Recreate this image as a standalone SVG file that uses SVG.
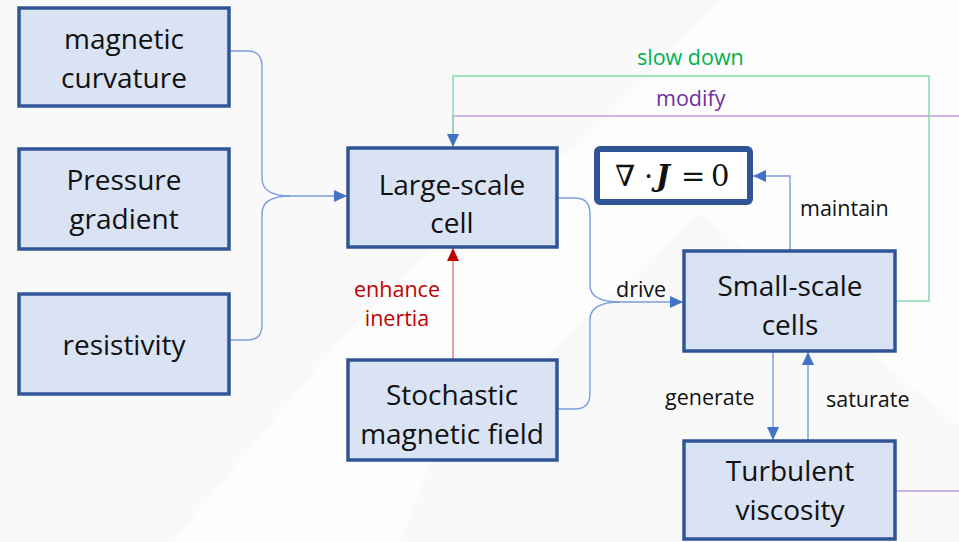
<svg xmlns="http://www.w3.org/2000/svg" width="959" height="542" viewBox="0 0 959 542">
<defs>
<style>
.node rect{fill:#dae3f3;stroke:#2f5597;stroke-width:3.5}
.nt{font-family:"Open Sans","Noto Sans",sans-serif;font-size:28px;fill:#111;text-anchor:middle}
.lb{font-family:"Open Sans","Noto Sans",sans-serif;font-size:21.5px}
.blue{fill:none;stroke:#7c9fdc;stroke-width:1.4}
.red{fill:none;stroke:#e07878;stroke-width:1.4}
.green{fill:none;stroke:#86dcaa;stroke-width:1.5}
.purple{fill:none;stroke:#bf9fdc;stroke-width:1.5}
</style>
<marker id="ab" markerUnits="userSpaceOnUse" markerWidth="14" markerHeight="12" refX="13" refY="6" orient="auto"><path d="M0,0 L13,6 L0,12 z" fill="#4472c4"/></marker>
<marker id="ar" markerUnits="userSpaceOnUse" markerWidth="14" markerHeight="12" refX="13" refY="6" orient="auto"><path d="M0,0 L13,6 L0,12 z" fill="#c00000"/></marker>
</defs>
<rect x="0" y="0" width="959" height="542" fill="#f9f9f9"/>
<polygon points="720,0 959,0 959,425 700,213 430,463 400,542 173,542 340,340 450,230 585,140" fill="#fdfdfd"/>

<g id="connectors">
<path class="blue" d="M230,51 H248 Q262,51 262,66 V178 Q262,196 290,196 H347" marker-end="url(#ab)"/>
<path class="blue" d="M230,340 H248 Q262,340 262,325 V214 Q262,196 290,196"/>
<path class="blue" d="M558,198 H575 Q590,198 590,214 V285 Q590,302 620,302 H683" marker-end="url(#ab)"/>
<path class="blue" d="M558,409 H575 Q590,409 590,393 V320 Q590,302 620,302"/>
<path class="red" d="M453,359 V248" marker-end="url(#ar)"/>
<path class="blue" d="M790,250 V176 H753" marker-end="url(#ab)"/>
<path class="blue" d="M773,352 V440" marker-end="url(#ab)"/>
<path class="blue" d="M808,440 V352" marker-end="url(#ab)"/>
<path class="purple" d="M896,491 H975 V116 H453 V147"/>
<path class="green" d="M896,301 H929 V76 H453 V147" marker-end="url(#ab)"/>
<text class="lb" x="665" y="405" fill="#111">generate</text>
<text class="lb" x="826" y="407" fill="#111">saturate</text>
<text class="lb" x="800" y="216" fill="#111">maintain</text>
<text class="lb" x="616" y="297" fill="#111">drive</text>
<text class="lb" x="397" y="297" fill="#c00000" text-anchor="middle">enhance</text>
<text class="lb" x="397" y="326" fill="#c00000" text-anchor="middle">inertia</text>
<text class="lb" x="637" y="65" fill="#00b050">slow down</text>
<text class="lb" x="656" y="106" fill="#7030a0">modify</text>
</g>

<g id="n1" class="node"><rect x="19" y="8" width="210" height="98"/>
<text class="nt" x="124" y="49">magnetic</text><text class="nt" x="124" y="88">curvature</text></g>
<g id="n2" class="node"><rect x="19" y="149" width="210" height="100"/>
<text class="nt" x="124" y="190">Pressure</text><text class="nt" x="124" y="229">gradient</text></g>
<g id="n3" class="node"><rect x="19" y="294" width="210" height="100"/>
<text class="nt" x="124" y="355">resistivity</text></g>
<g id="n4" class="node"><rect x="348" y="148" width="209" height="99"/>
<text class="nt" x="452" y="195">Large-scale</text><text class="nt" x="452" y="233">cell</text></g>
<g id="n5" class="node"><rect x="348" y="360" width="209" height="100"/>
<text class="nt" x="452" y="405">Stochastic</text><text class="nt" x="452" y="444">magnetic field</text></g>
<g id="n6" class="node"><rect x="684" y="251" width="211" height="100"/>
<text class="nt" x="790" y="296">Small-scale</text><text class="nt" x="790" y="335">cells</text></g>
<g id="n7" class="node"><rect x="684" y="441" width="211" height="98"/>
<text class="nt" x="790" y="481">Turbulent</text><text class="nt" x="790" y="520">viscosity</text></g>
<g id="n8"><rect x="597" y="149" width="153" height="53" rx="3" fill="#ffffff" stroke="#2f5597" stroke-width="6"/>
<text font-family="'DejaVu Serif','Liberation Serif',serif" font-size="29" fill="#111" y="186"><tspan x="615">∇</tspan><tspan x="644">·</tspan><tspan x="656" font-weight="bold" font-style="italic">J</tspan><tspan x="681">=</tspan><tspan x="711">0</tspan></text></g>
</svg>
